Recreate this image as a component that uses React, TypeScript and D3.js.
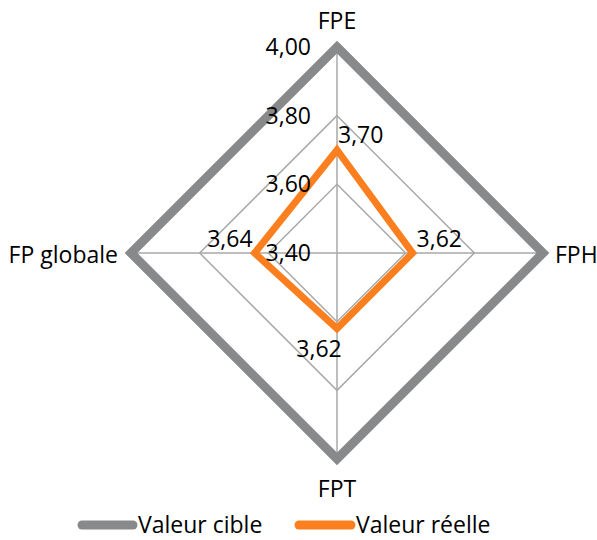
import React from "react";
import * as d3 from "d3";

const categories = ["FPE", "FPH", "FPT", "FP globale"];
const targetValues = [4.0, 4.0, 4.0, 4.0];
const actualValues = [3.7, 3.62, 3.62, 3.64];
const ticks = [3.4, 3.6, 3.8, 4.0];
const seriesNames = ["Valeur cible", "Valeur réelle"];

const W = 597;
const H = 540;
const cx = 337;
const cy = 253;
const R = 206;
const FONT = "'Open Sans', 'Liberation Sans', sans-serif";
const FS = 23;
const GRAY = "#88898b";
const ORANGE = "#fb7f1f";
const GRID = "#a9a9a9";

const fmt = (v: number) => v.toFixed(2).replace(".", ",");

export default function App() {
  const r = d3.scaleLinear().domain([3.4, 4.0]).range([0, R]);
  const step = (2 * Math.PI) / categories.length;
  const ang = (i: number) => i * step;
  const pt = (i: number, v: number) => [
    cx + r(v) * Math.sin(ang(i)),
    cy - r(v) * Math.cos(ang(i)),
  ];

  const radial = (vals: number[]) =>
    d3
      .lineRadial<number>()
      .angle((_, i) => ang(i))
      .radius((d) => r(d))
      .curve(d3.curveLinearClosed)(vals) || "";

  // Offsets of each data label relative to its point
  const labelOffsets: [number, number, string][] = [
    [1, -7, "start"],
    [4, -6, "start"],
    [-18, 28, "middle"],
    [-2, -6, "end"],
  ];

  const catLabelPos = (i: number) => {
    const [x, y] = pt(i, 4.0);
    if (i === 0) return { x, y: y - 18, anchor: "middle" };
    if (i === 1) return { x: x + 12, y: y + 10, anchor: "start" };
    if (i === 2) return { x, y: y + 38, anchor: "middle" };
    return { x: x - 13, y: y + 10, anchor: "end" };
  };

  return (
    <svg width={W} height={H} style={{ position: "absolute", left: 0, top: 0 }}>
      <rect width={W} height={H} fill="#fff" />
      <g transform={`translate(${cx},${cy})`}>
        {ticks.slice(1).map((t) => (
          <path key={t} d={radial(categories.map(() => t))} fill="none" stroke={GRID} strokeWidth={1.5} />
        ))}
        {categories.map((c, i) => {
          const [x, y] = pt(i, 4.0);
          return <line key={c} x1={0} y1={0} x2={x - cx} y2={y - cy} stroke={GRID} strokeWidth={1.5} />;
        })}
        <path d={radial(targetValues)} fill="none" stroke={GRAY} strokeWidth={9} strokeLinejoin="miter" />
        <path d={radial(actualValues)} fill="none" stroke={ORANGE} strokeWidth={7} strokeLinejoin="miter" />
      </g>
      {ticks.map((t) => (
        <text
          key={t}
          x={cx - 26}
          y={cy - r(t) + 8}
          textAnchor="end"
          fontFamily={FONT}
          fontSize={FS}
          fill="#000"
        >
          {fmt(t)}
        </text>
      ))}
      {actualValues.map((v, i) => {
        const [x, y] = pt(i, v);
        const [dx, dy, anchor] = labelOffsets[i];
        return (
          <text key={i} x={x + dx} y={y + dy} textAnchor={anchor as any} fontFamily={FONT} fontSize={FS} fill="#000">
            {fmt(v)}
          </text>
        );
      })}
      {categories.map((c, i) => {
        const p = catLabelPos(i);
        return (
          <text key={c} x={p.x} y={p.y} textAnchor={p.anchor as any} fontFamily={FONT} fontSize={FS} fill="#000">
            {c}
          </text>
        );
      })}
      <g fontFamily={FONT} fontSize={FS} fill="#000">
        <line x1={82} y1={525} x2={133} y2={525} stroke={GRAY} strokeWidth={9} strokeLinecap="round" />
        <text x={138} y={533}>{seriesNames[0]}</text>
        <line x1={299} y1={525} x2={351} y2={525} stroke={ORANGE} strokeWidth={9} strokeLinecap="round" />
        <text x={356} y={533}>{seriesNames[1]}</text>
      </g>
    </svg>
  );
}
